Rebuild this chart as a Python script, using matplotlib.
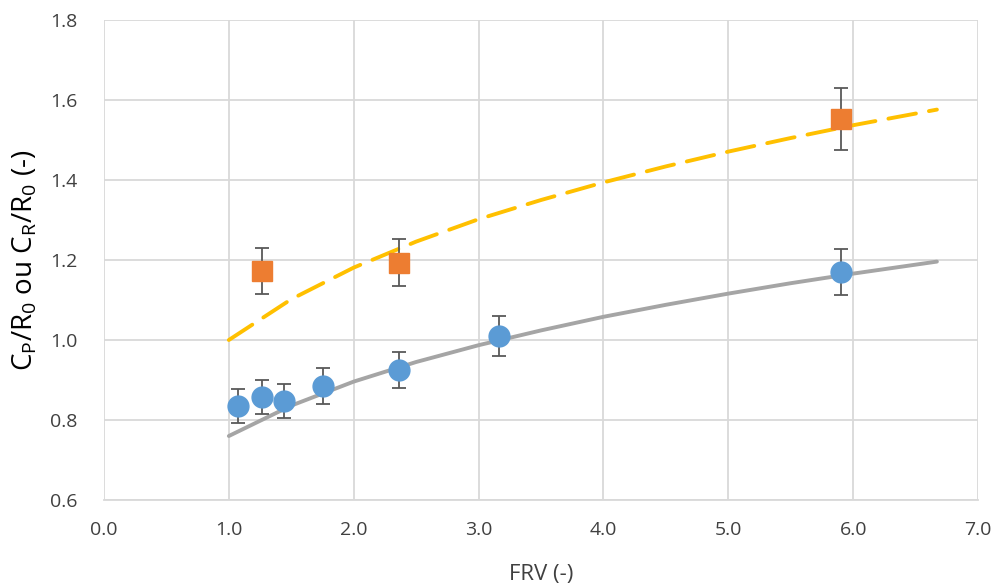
import numpy as np
import matplotlib.pyplot as plt

# ------------------ DONNEES ------------------
# points C_P/R_0 (cercles bleus)
frv_p = [1.07, 1.265, 1.44, 1.755, 2.36, 3.16, 5.90]
cp_r0 = [0.835, 0.858, 0.848, 0.885, 0.925, 1.010, 1.170]
cp_err = [0.042, 0.043, 0.043, 0.044, 0.046, 0.050, 0.058]

# points C_R/R_0 (carres orange)
frv_r = [1.265, 2.36, 5.90]
cr_r0 = [1.173, 1.193, 1.552]
cr_err = [0.058, 0.059, 0.077]

# courbes de tendance
x_tend = [1.0, 1.5, 2.0, 2.5, 3.0, 3.5, 4.0, 4.5, 5.0, 5.5, 6.0, 6.67]
tend_p = [0.760, 0.836, 0.896, 0.945, 0.987, 1.024, 1.058, 1.088, 1.116, 1.142, 1.166, 1.196]
tend_r = [1.000, 1.102, 1.181, 1.246, 1.302, 1.350, 1.394, 1.434, 1.471, 1.505, 1.537, 1.576]

x_ticks = [0, 1, 2, 3, 4, 5, 6, 7]
y_ticks = [0.6, 0.8, 1.0, 1.2, 1.4, 1.6, 1.8]
# ---------------------------------------------

plt.rcParams['font.family'] = ['Open Sans', 'DejaVu Sans']

fig = plt.figure(figsize=(9.93, 5.85), dpi=100)
ax = fig.add_axes([0.1047, 0.1453, 0.8803, 0.8205])

ax.plot(x_tend, tend_p, color='#A5A5A5', lw=2.8, solid_capstyle='round', zorder=2)
ax.plot(x_tend, tend_r, color='#FFC000', lw=2.8, dashes=(7.2, 3.4),
        dash_capstyle='round', zorder=2)

ax.errorbar(frv_p, cp_r0, yerr=cp_err, fmt='o', color='#5B9BD5', ms=15,
            ecolor='#595959', elinewidth=1.3, capsize=5, capthick=1.3, zorder=3)
ax.errorbar(frv_r, cr_r0, yerr=cr_err, fmt='s', color='#ED7D31', ms=14.5,
            ecolor='#595959', elinewidth=1.3, capsize=5, capthick=1.3, zorder=3)

ax.set_xlim(0, 7)
ax.set_ylim(0.6, 1.8)
ax.set_xticks(x_ticks)
ax.set_yticks(y_ticks)
ax.set_xticklabels([f"{v:.1f}" for v in x_ticks])
ax.set_yticklabels([f"{v:.1f}" for v in y_ticks])
ax.tick_params(length=0, labelsize=14, colors='#404040')
ax.tick_params(axis='x', pad=15)
ax.tick_params(axis='y', pad=19)

ax.grid(True, color='#D9D9D9', lw=1.3)
ax.set_axisbelow(True)
for s in ['top', 'right', 'left']:
    ax.spines[s].set_visible(False)
ax.spines['bottom'].set_color('#D9D9D9')
ax.spines['bottom'].set_linewidth(1.3)

ax.set_xlabel("FRV (-)", fontsize=16, color='#404040', labelpad=18)
ax.set_ylabel(r"C$_\mathregular{P}$/R$_\mathregular{0}$ ou C$_\mathregular{R}$/R$_\mathregular{0}$ (-)",
              fontsize=20, color='black', labelpad=8)

fig.savefig("out.png", dpi=100)
